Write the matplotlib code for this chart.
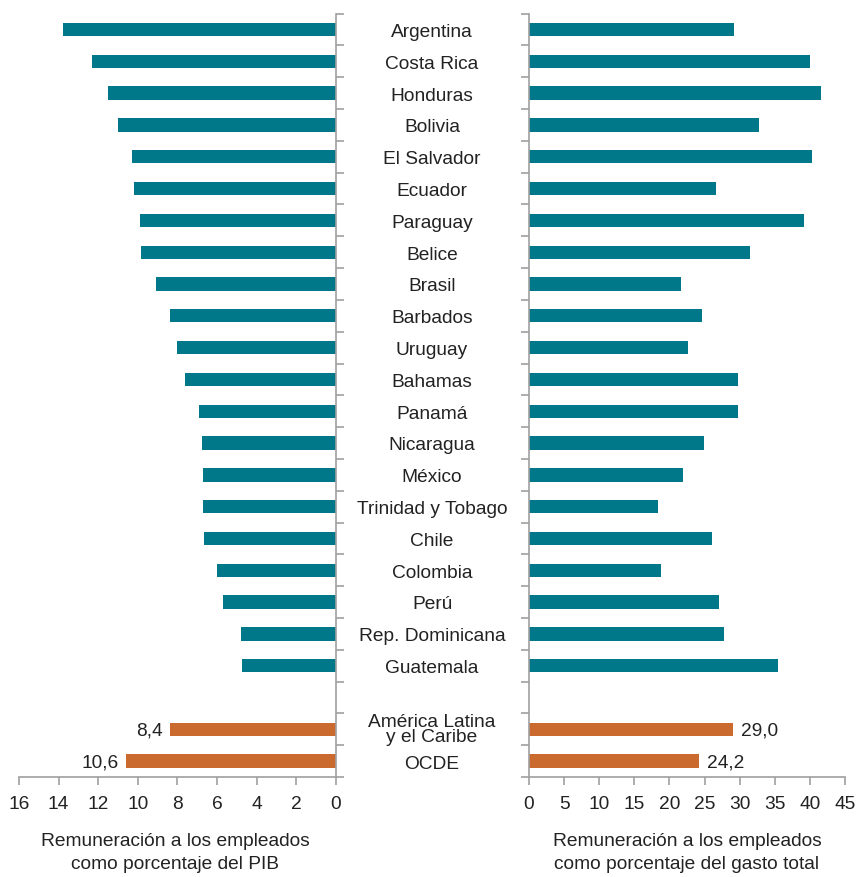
import matplotlib
matplotlib.use("Agg")
import matplotlib.pyplot as plt
import matplotlib.transforms as mtransforms
from matplotlib.ticker import FixedLocator
import numpy as np

plt.rcParams['font.family'] = ['Liberation Sans', 'DejaVu Sans']

countries = ["Argentina", "Costa Rica", "Honduras", "Bolivia", "El Salvador", "Ecuador",
             "Paraguay", "Belice", "Brasil", "Barbados", "Uruguay", "Bahamas", "Panamá",
             "Nicaragua", "México", "Trinidad y Tobago", "Chile", "Colombia", "Perú",
             "Rep. Dominicana", "Guatemala"]
pib = [13.8, 12.3, 11.5, 11.0, 10.3, 10.2, 9.9, 9.85, 9.1, 8.4, 8.0, 7.6, 6.9,
       6.75, 6.7, 6.7, 6.65, 6.0, 5.7, 4.8, 4.75]
gasto = [29.2, 40.0, 41.6, 32.8, 40.3, 26.6, 39.2, 31.5, 21.6, 24.6, 22.6, 29.8, 29.8,
         24.9, 21.9, 18.4, 26.1, 18.8, 27.1, 27.8, 35.5]
aggregates = ["América Latina\ny el Caribe", "OCDE"]
agg_pib = [8.4, 10.6]
agg_gasto = [29.0, 24.2]
agg_pib_labels = ["8,4", "10,6"]
agg_gasto_labels = ["29,0", "24,2"]
left_ticks = [16, 14, 12, 10, 8, 6, 4, 2, 0]
right_ticks = [0, 5, 10, 15, 20, 25, 30, 35, 40, 45]
left_title = "Remuneración a los empleados\ncomo porcentaje del PIB"
right_title = "Remuneración a los empleados\ncomo porcentaje del gasto total"

teal = "#00788A"
orange = "#CB6A2E"
grey = "#A0A0A0"
txt = "#222222"
fs = 13.8

fig = plt.figure(figsize=(8.58, 8.78), dpi=100)
axL = fig.add_axes([0.0221, 0.1139, 0.3695, 0.8694])
axR = fig.add_axes([0.6166, 0.1139, 0.3682, 0.8694])

ypos = np.arange(len(countries))
ypos_agg = np.array([len(countries) + 1, len(countries) + 2])
h = 0.42

axL.barh(ypos, pib, height=h, color=teal)
axL.barh(ypos_agg, agg_pib, height=h, color=orange)
axR.barh(ypos, gasto, height=h, color=teal)
axR.barh(ypos_agg, agg_gasto, height=h, color=orange)

nslots = len(countries) + 3
for ax in (axL, axR):
    ax.set_ylim(nslots - 0.5, -0.5)
    ax.yaxis.set_major_locator(FixedLocator(np.arange(-0.5, nslots, 1.0)))
    ax.set_yticklabels([])
    ax.spines['top'].set_visible(False)
    for s in ax.spines.values():
        s.set_color(grey)
        s.set_linewidth(1.2)
    ax.tick_params(axis='both', color=grey, width=1.2, length=6, labelsize=fs,
                   labelcolor=txt)
    ax.tick_params(axis='x', pad=7)

axL.set_xlim(16, 0)
axL.set_xticks(left_ticks)
axL.spines['left'].set_visible(False)
axL.yaxis.tick_right()
axL.tick_params(axis='y', left=False, right=True)

axR.set_xlim(0, 45)
axR.set_xticks(right_ticks)
axR.spines['right'].set_visible(False)

for y, v, lab in zip(ypos_agg, agg_pib, agg_pib_labels):
    axL.text(v + 0.35, y + 0.03, lab, ha='right', va='center', fontsize=fs, color=txt)
for y, v, lab in zip(ypos_agg, agg_gasto, agg_gasto_labels):
    axR.text(v + 1.2, y + 0.03, lab, ha='left', va='center', fontsize=fs, color=txt)

trans = mtransforms.blended_transform_factory(fig.transFigure, axL.transData)
xc = 432 / 858
for y, name in zip(ypos, countries):
    fig.text(xc, y + 0.06, name, transform=trans, ha='center', va='center', fontsize=fs,
             color=txt)
for y, name in zip(ypos_agg, aggregates):
    fig.text(xc, y - (0.02 if "\n" in name else -0.06), name, transform=trans,
             ha='center', va='center', fontsize=fs, color=txt, linespacing=0.85)

fig.text(175 / 858, 1 - 853 / 878, left_title, ha='center', va='center', fontsize=fs,
         color=txt, linespacing=1.4)
fig.text(687 / 858, 1 - 853 / 878, right_title, ha='center', va='center', fontsize=fs,
         color=txt, linespacing=1.4)

fig.savefig("out.png", dpi=100)
